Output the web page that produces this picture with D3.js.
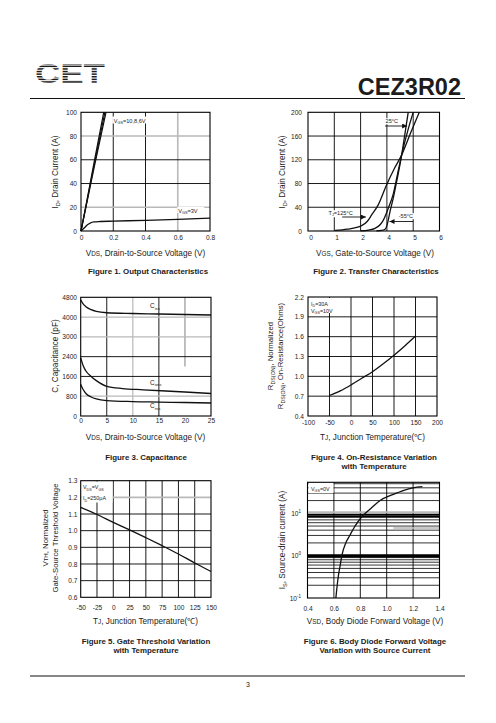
<!DOCTYPE html>
<html><head><meta charset="utf-8">
<script src="https://cdn.jsdelivr.net/npm/d3@7"></script>
<style>
body{margin:0;background:#fff}
svg{display:block}
text{font-family:"Liberation Sans",Arial,Helvetica,sans-serif;fill:#1c1c1c}
</style></head><body>
<svg id="c" width="496" height="723"></svg>
<script>
// ================= DATA =================
// Figure 1 – Output characteristics
const fig1XTicks=[0,0.2,0.4,0.6,0.8];
const fig1YTicks=[0,20,40,60,80,100];
const fig1Vgs10=[[0,0],[0.03,21],[0.08,57],[0.141,100]];
const fig1Vgs8=[[0,0],[0.03,20.3],[0.08,54.5],[0.148,100]];
const fig1Vgs6=[[0,0],[0.03,19.6],[0.08,52.5],[0.155,100]];
const fig1Vgs3=[[0,0],[0.02,2.5],[0.04,5.2],[0.06,6.9],[0.08,7.6],[0.12,8],[0.2,8.3],[0.4,9],[0.6,9.8],[0.8,10.8]];
// Figure 2 – Transfer characteristics (x in grid units)
const fig2XTicks=[0,1,2,3,4,5];
const fig2XLabels=["0","1","2","4","5","6"];
const fig2YTicks=[0,40,80,120,160,200];
const fig2T125=[[1.03,1],[1.5,3],[2.04,9],[2.25,16],[2.42,27],[2.67,44],[2.99,78],[3.28,105],[3.56,128],[3.9,165],[4.23,200]];
const fig2T25=[[2.0,0.3],[2.3,1.5],[2.55,4.5],[2.75,11],[2.86,18],[3.05,38],[3.24,62],[3.4,95],[3.56,128],[3.8,170],[4.0,200]];
const fig2Tm55=[[2.6,0.3],[2.8,1],[2.93,3],[3.0,9],[3.05,18],[3.12,33],[3.24,55],[3.37,83],[3.56,128],[3.7,168],[3.81,200]];
// Figure 3 – Capacitance
const fig3XTicks=[0,5,10,15,20,25];
const fig3YTicks=[0,800,1600,2400,3200,4000,4800];
const fig3YLabels=["0","800","1600","2400","3000","4000","4800"];
const fig3Ciss=[[0,4700],[0.5,4520],[1,4420],[2,4300],[3,4230],[5,4175],[10,4145],[15,4125],[20,4105],[25,4085]];
const fig3Coss=[[0,2350],[0.5,2020],[1,1820],[2,1600],[3,1430],[5,1200],[8,1110],[12,1060],[20,970],[25,910]];
const fig3Crss=[[0,1280],[0.5,1060],[1,910],[2,770],[3,690],[5,625],[10,585],[15,565],[20,545],[25,525]];
// Figure 4 – On-resistance vs temperature
const fig4XTicks=[-100,-50,0,50,100,150,200];
const fig4YTicks=[0.4,0.7,1.0,1.3,1.6,1.9,2.2];
const fig4Curve=[[-50,0.71],[-25,0.78],[0,0.87],[25,0.97],[50,1.07],[75,1.19],[100,1.32],[125,1.46],[150,1.61]];
// Figure 5 – Gate threshold vs temperature
const fig5XTicks=[-50,-25,0,25,50,75,100,125,150];
const fig5YTicks=[0.6,0.7,0.8,0.9,1.0,1.1,1.2,1.3];
const fig5Curve=[[-50,1.14],[-25,1.097],[0,1.05],[25,1.005],[50,0.958],[75,0.91],[100,0.86],[125,0.806],[150,0.755]];
// Figure 6 – Body diode forward voltage
const fig6XTicks=[0.4,0.6,0.8,1.0,1.2,1.4];
const fig6YTicks=[0.1,1,10];
const fig6YExp=["-1","0","1"];
const fig6Curve=[[0.615,0.1],[0.625,0.2],[0.635,0.35],[0.648,0.6],[0.66,1.0],[0.69,2],[0.72,3],[0.76,5],[0.81,8.2],[0.88,13],[0.95,20],[1.05,28],[1.13,35],[1.2,40],[1.27,42.5]];

// ================= DRAWING =================
const svg=d3.select('#c');
const GRAY='#b9b9b9';
const TICKFS=6.6, TITLEFS=8.2, CAPFS=7.9;
const plain=d=>String(d);

function rich(g,x,y,parts,o={}){
  const fs=o.fs||TITLEFS;
  const t=g.append('text').attr('x',x).attr('y',y).attr('font-size',fs)
    .attr('text-anchor',o.anchor||'middle');
  if(o.rot) t.attr('transform',`rotate(-90,${x},${y})`);
  if(o.bold) t.attr('font-weight','bold');
  if(o.fill) t.attr('fill',o.fill);
  let shift=0;
  parts.forEach(p=>{
    if(typeof p==='string'){ t.append('tspan').attr('dy',-shift).text(p); shift=0; }
    else{
      const [s,kind]=p;
      const d=kind==='sub'?fs*0.3:kind==='sup'?-fs*0.45:0;
      t.append('tspan').attr('font-size',fs*(kind==='sc'?0.78:0.68)).attr('dy',d-shift).text(s);
      shift=d;
    }
  });
  return t;
}

function gridV(g,x,y,v,color,w,from,to){
  g.append('line').attr('x1',x(v)).attr('x2',x(v))
    .attr('y1',from!=null?y(from):y.range()[0]).attr('y2',to!=null?y(to):y.range()[1])
    .attr('stroke',color).attr('stroke-width',w);
}
function gridH(g,x,y,v,color,w,from,to){
  g.append('line').attr('y1',y(v)).attr('y2',y(v))
    .attr('x1',from!=null?x(from):x.range()[0]).attr('x2',to!=null?x(to):x.range()[1])
    .attr('stroke',color).attr('stroke-width',w);
}
function frame(g,x0,x1,yb,yt){
  g.append('rect').attr('x',x0).attr('y',yt).attr('width',x1-x0).attr('height',yb-yt)
    .attr('fill','none').attr('stroke','#000').attr('stroke-width',1.1);
}
function styleAxis(s){
  s.select('.domain').remove();
  s.attr('font-family',null).attr('font-size',null);
  s.selectAll('text').attr('font-size',TICKFS).attr('fill','#1c1c1c');
}
function xAxis(g,scale,ticks,fmt,yTop){
  g.append('g').attr('transform',`translate(0,${yTop})`)
    .call(d3.axisBottom(scale).tickValues(ticks).tickFormat(fmt).tickSize(0).tickPadding(0))
    .call(styleAxis);
}
function yAxis(g,scale,ticks,fmt,xRight){
  g.append('g').attr('transform',`translate(${xRight},0)`)
    .call(d3.axisLeft(scale).tickValues(ticks).tickFormat(fmt).tickSize(0).tickPadding(0))
    .call(styleAxis);
}
function curve(g,x,y,data,w){
  g.append('path').datum(data).attr('fill','none').attr('stroke','#111').attr('stroke-width',w||1.3)
    .attr('stroke-linejoin','round')
    .attr('d',d3.line().x(d=>x(d[0])).y(d=>y(d[1])).curve(d3.curveMonotoneX));
}
function whiteBox(g,x,y,w,h){ g.append('rect').attr('x',x).attr('y',y).attr('width',w).attr('height',h).attr('fill','#fff'); }

// arrow marker
svg.append('defs').append('marker').attr('id','ah').attr('viewBox','0 0 10 10').attr('refX',10).attr('refY',5)
  .attr('markerWidth',7).attr('markerHeight',5).attr('markerUnits','userSpaceOnUse').attr('orient','auto')
  .append('path').attr('d','M0,0L10,5L0,10z').attr('fill','#111');

// ---------- Header ----------
const hdr=svg.append('g');
hdr.append('text').attr('x',35).attr('y',83).attr('font-size',27).attr('font-weight','bold')
  .attr('textLength',70).attr('lengthAdjust','spacingAndGlyphs').attr('fill','#111').text('CET');
for(let yy=63; yy<85; yy+=2.6) hdr.append('rect').attr('x',32).attr('y',yy+1.5).attr('width',78).attr('height',1.1).attr('fill','#fff');
hdr.append('text').attr('x',461).attr('y',95).attr('text-anchor','end').attr('font-size',23.5)
  .attr('font-weight','bold').attr('fill','#1a1a1a').text('CEZ3R02');
hdr.append('line').attr('x1',30).attr('x2',465).attr('y1',98.5).attr('y2',98.5).attr('stroke','#111').attr('stroke-width',1.2);
hdr.append('line').attr('x1',30).attr('x2',465).attr('y1',676).attr('y2',676).attr('stroke','#111').attr('stroke-width',1.2);
hdr.append('text').attr('x',248).attr('y',687).attr('text-anchor','middle').attr('font-size',7).text('3');

// ---------- Figure 1 ----------
{
 const g=svg.append('g');
 const x=d3.scaleLinear().domain([0,0.8]).range([81,210]);
 const y=d3.scaleLinear().domain([0,100]).range([231,112.3]);
 gridV(g,x,y,0.2,'#000',0.9); gridV(g,x,y,0.4,'#000',0.9); gridV(g,x,y,0.6,GRAY,1.6);
 gridH(g,x,y,20,GRAY,1.6); gridH(g,x,y,40,'#000',0.9); gridH(g,x,y,60,'#000',0.9); gridH(g,x,y,80,GRAY,1.6);
 whiteBox(g,x(0.2)-1,y(96.5),36,7); whiteBox(g,x(0.6)-0.5,y(20.5),27,6.5);
 [fig1Vgs10,fig1Vgs8,fig1Vgs6].forEach(d=>curve(g,x,y,d,1.2));
 curve(g,x,y,fig1Vgs3,1.3);
 frame(g,81,210,231,112.3);
 xAxis(g,x,fig1XTicks,d=>d===0?'0':d3.format('.1f')(d),235.5);
 yAxis(g,y,fig1YTicks,plain,77);
 rich(g,x(0.2)+0.5,122.5,['V',['GS','sub'],'=10,8,6V'],{anchor:'start',fs:5.6});
 rich(g,x(0.6)+0.5,212.5,['V',['GS','sub'],'=3V'],{anchor:'start',fs:5.6});
 rich(g,58,172,['I',['D','sub'],', Drain Current (A)'],{rot:true});
 rich(g,145.5,256,['V',['DS','sc'],', Drain-to-Source Voltage (V)']);
 rich(g,148,274,['Figure 1. Output Characteristics'],{bold:true,fs:CAPFS});
}

// ---------- Figure 2 ----------
{
 const g=svg.append('g');
 const x=d3.scaleLinear().domain([0,5]).range([308,439.5]);
 const y=d3.scaleLinear().domain([0,200]).range([231,112.3]);
 [1,2,3,4].forEach(v=>gridV(g,x,y,v,'#000',0.9));
 [40,80,120,160].forEach(v=>gridH(g,x,y,v,'#000',0.9));
 whiteBox(g,x(2.95),y(190),16,6); whiteBox(g,x(0.75),y(35),30,7); whiteBox(g,x(3.4),y(30),18,6);
 [fig2T125,fig2T25,fig2Tm55].forEach(d=>curve(g,x,y,d,1.3));
 frame(g,308,439.5,231,112.3);
 const xl=d3.scaleLinear().domain([0,5]).range([310.5,440.5]);
 xAxis(g,xl,fig2XTicks,(d,i)=>fig2XLabels[i],235.5);
 yAxis(g,y,fig2YTicks,plain,302);
 rich(g,x(2.95),122.5,['25°C'],{anchor:'start',fs:5.6});
 g.append('line').attr('x1',x(2.93)).attr('x2',x(3.77)).attr('y1',126).attr('y2',126).attr('stroke','#111').attr('stroke-width',0.9).attr('marker-end','url(#ah)');
 rich(g,x(0.78),214.5,['T',['J','sub'],'=125°C'],{anchor:'start',fs:5.6});
 g.append('line').attr('x1',x(1.3)).attr('x2',x(2.2)).attr('y1',217).attr('y2',217).attr('stroke','#111').attr('stroke-width',0.9).attr('marker-end','url(#ah)');
 rich(g,x(3.45),217.5,['-55°C'],{anchor:'start',fs:5.6});
 g.append('line').attr('x1',x(4.0)).attr('x2',x(3.1)).attr('y1',221.5).attr('y2',221.5).attr('stroke','#111').attr('stroke-width',0.9).attr('marker-end','url(#ah)');
 rich(g,285,172,['I',['D','sub'],', Drain Current (A)'],{rot:true});
 rich(g,375,256,['V',['GS','sc'],', Gate-to-Source Voltage (V)']);
 rich(g,376,274,['Figure 2. Transfer Characteristics'],{bold:true,fs:CAPFS});
}

// ---------- Figure 3 ----------
{
 const g=svg.append('g');
 const x=d3.scaleLinear().domain([0,25]).range([80.7,211]);
 const y=d3.scaleLinear().domain([0,4800]).range([416,297.3]);
 gridV(g,x,y,5,'#000',0.9); gridV(g,x,y,10,GRAY,1.2); gridV(g,x,y,15,'#000',0.9); gridV(g,x,y,20,GRAY,1.8,2000,4800);
 gridH(g,x,y,800,GRAY,1.2); gridH(g,x,y,1600,'#000',0.9); gridH(g,x,y,2400,'#000',0.9);
 gridH(g,x,y,3200,GRAY,1.2); gridH(g,x,y,4000,GRAY,1.2);
 [fig3Ciss,fig3Coss,fig3Crss].forEach(d=>curve(g,x,y,d,1.3));
 frame(g,80.7,211,416,297.3);
 xAxis(g,x,fig3XTicks,plain,418.5);
 yAxis(g,y,fig3YTicks,(d,i)=>fig3YLabels[i],77);
 rich(g,150,308,['C',['iss','sub']],{anchor:'start',fs:6.4});
 rich(g,150,384.5,['C',['oss','sub']],{anchor:'start',fs:6.4});
 rich(g,150,408,['C',['rss','sub']],{anchor:'start',fs:6.4});
 rich(g,58,356,['C, Capacitance (pF)'],{rot:true});
 rich(g,145.5,440,['V',['DS','sc'],', Drain-to-Source Voltage (V)']);
 rich(g,146,459.5,['Figure 3. Capacitance'],{bold:true,fs:CAPFS});
}

// ---------- Figure 4 ----------
{
 const g=svg.append('g');
 const x=d3.scaleLinear().domain([-100,200]).range([308,437]);
 const y=d3.scaleLinear().domain([0.4,2.2]).range([416,297]);
 [-50,0,50,100,150].forEach(v=>gridV(g,x,y,v,'#000',0.9));
 [0.7,1.0,1.3,1.6,1.9].forEach(v=>gridH(g,x,y,v,'#000',0.9));
 whiteBox(g,309,298,28,15);
 curve(g,x,y,fig4Curve,1.3);
 frame(g,308,437,416,297);
 xAxis(g,x,fig4XTicks,plain,420);
 yAxis(g,y,fig4YTicks,d3.format('.1f'),304);
 rich(g,311,305.5,['I',['D','sub'],'=30A'],{anchor:'start',fs:5.4});
 rich(g,311,312.5,['V',['GS','sub'],'=10V'],{anchor:'start',fs:5.4});
 rich(g,272.5,356,['R',['DS(ON)','sub'],', Normalized'],{rot:true,fs:7.8});
 rich(g,282.5,356,['R',['DS(ON)','sub'],', On-Resistance(Ohms)'],{rot:true,fs:7.8});
 rich(g,372.5,440,['T',['J','sc'],', Junction Temperature(℃)']);
 rich(g,374,459.5,['Figure 4. On-Resistance Variation'],{bold:true,fs:CAPFS});
 rich(g,374,468.5,['with Temperature'],{bold:true,fs:CAPFS});
}

// ---------- Figure 5 ----------
{
 const g=svg.append('g');
 const x=d3.scaleLinear().domain([-50,150]).range([80.7,211]);
 const y=d3.scaleLinear().domain([0.6,1.3]).range([597.3,480.7]);
 [-25,0,25,50,75,100,125].forEach(v=>gridV(g,x,y,v,'#000',0.9));
 [0.7,0.8,0.9,1.0,1.1].forEach(v=>gridH(g,x,y,v,'#000',0.9));
 gridH(g,x,y,1.2,GRAY,1.8);
 whiteBox(g,81.5,481.5,31,21);
 curve(g,x,y,fig5Curve,1.3);
 frame(g,80.7,211,597.3,480.7);
 xAxis(g,x,fig5XTicks,plain,605);
 yAxis(g,y,fig5YTicks,d3.format('.1f'),77.5);
 rich(g,83,489,['V',['DS','sub'],'=V',['GS','sub']],{anchor:'start',fs:5.4});
 rich(g,83,500,['I',['D','sub'],'=250μA'],{anchor:'start',fs:5.4});
 rich(g,48,538,['V',['TH','sc'],', Normalized'],{rot:true,fs:7.8});
 rich(g,57.5,538,['Gate-Source Threshold Voltage'],{rot:true,fs:7.8});
 rich(g,145.5,624,['T',['J','sc'],', Junction Temperature(℃)']);
 rich(g,146,644,['Figure 5. Gate Threshold Variation'],{bold:true,fs:CAPFS});
 rich(g,146,653,['with Temperature'],{bold:true,fs:CAPFS});
}

// ---------- Figure 6 ----------
{
 const g=svg.append('g');
 const x=d3.scaleLinear().domain([0.4,1.4]).range([307.5,439.5]);
 const y=d3.scaleLog().domain([0.1,54]).range([598,482.3]);
 [0.6,0.8,1.0,1.2].forEach(v=>gridV(g,x,y,v,'#000',0.9));
 const minor=[];
 [0.1,1,10].forEach(dec=>{for(let k=2;k<=9;k++){const v=k*dec; if(v<54) minor.push(v);}});
 minor.forEach(v=>gridH(g,x,y,v,'#000',0.8));
 gridH(g,x,y,1,'#000',2.6); gridH(g,x,y,0.93,'#000',1.2);
 gridH(g,x,y,10.6,GRAY,1.8); gridH(g,x,y,9.3,'#000',1.8); gridH(g,x,y,8.4,'#000',1.1);
 gridH(g,x,y,4.5,GRAY,1.4,1.05,1.4);
 whiteBox(g,308.5,483,25,10);
 curve(g,x,y,fig6Curve,1.3);
 frame(g,307.5,439.5,598,482.3);
 xAxis(g,x,fig6XTicks,d3.format('.1f'),606.5);
 const ya=g.append('g').attr('transform','translate(305,0)')
   .call(d3.axisLeft(y).tickValues(fig6YTicks).tickFormat(()=> '10').tickSize(0).tickPadding(0))
   .call(styleAxis);
 ya.selectAll('.tick text').attr('dx',-4).each(function(d,i){
   d3.select(this).append('tspan').attr('font-size',4.5).attr('dy',-2.8).text(fig6YExp[i]);
 });
 rich(g,311,490.5,['V',['GS','sub'],'=0V'],{anchor:'start',fs:5.4});
 rich(g,285,540,['I',['S','sub'],', Source-drain current (A)'],{rot:true,fill:'#666'});
 rich(g,375,624,['V',['SD','sc'],', Body Diode Forward Voltage (V)']);
 rich(g,375,644,['Figure 6. Body Diode Forward Voltage'],{bold:true,fs:CAPFS});
 rich(g,375,653,['Variation with Source Current'],{bold:true,fs:CAPFS});
}
</script></body></html>
